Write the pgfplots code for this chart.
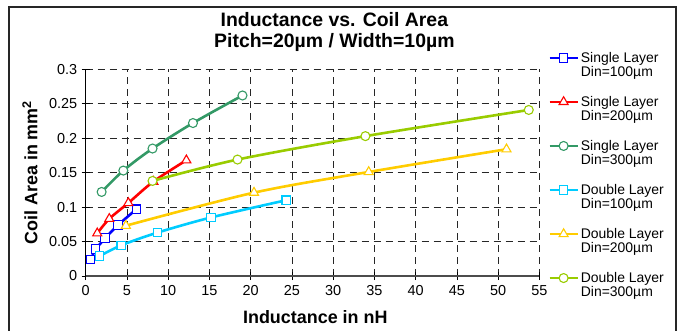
\documentclass[border=0pt]{standalone}
\usepackage{pgfplots}
\pgfplotsset{compat=1.18}
\usepackage{fontspec}
\setmainfont{Liberation Sans}
\definecolor{sA}{RGB}{0,0,255}
\definecolor{sB}{RGB}{255,0,0}
\definecolor{sC}{RGB}{51,153,102}
\definecolor{dA}{RGB}{0,204,255}
\definecolor{dB}{RGB}{255,204,0}
\definecolor{dC}{RGB}{153,204,0}
\begin{document}
\begin{tikzpicture}
\path[use as bounding box] (0,0) rectangle (680bp,331bp);
\draw[line width=1.2bp, black!85] (9bp,-20bp) rectangle (676bp,324bp);
\begin{axis}[
  at={(85.7bp,55bp)}, anchor=south west,
  scale only axis, width=453.8bp, height=206.7bp,
  xmin=0, xmax=55, ymin=0, ymax=0.3,
  xtick={0,5,...,55},
  ytick={0,0.05,0.1,0.15,0.2,0.25,0.3},
  yticklabels={0,0.05,0.1,0.15,0.2,0.25,0.3},
  axis x line=bottom, axis y line=left,
  x axis line style={-, line width=1.2bp, black!70},
  y axis line style={-, line width=1.2bp, black},
  tick align=center, major tick length=8bp,
  every tick/.style={black, line width=0.9bp},
  grid=major,
  major grid style={black!85, line width=0.9bp, dash pattern=on 7bp off 5bp},
  /pgf/number format/assume math mode=true,
  tick label style={font=\fontsize{14.5}{16}\selectfont},
  xticklabel style={yshift=-2bp},
  yticklabel style={xshift=-1bp},
  xlabel={Inductance in nH},
  ylabel={Coil Area in mm\textsuperscript{2}},
  xlabel style={at={(axis description cs:0.506,-0.198)}, anchor=center, font=\bfseries\fontsize{18}{20}\selectfont},
  ylabel style={at={(axis description cs:-0.1227,0.5)}, anchor=center, rotate=0, font=\bfseries\fontsize{18}{20}\selectfont},
  title={Inductance vs. Coil Area\\Pitch=20µm / Width=10µm},
  title style={at={(axis description cs:0.548,1.15)}, anchor=center, align=center, font=\bfseries\fontsize{19.5}{21}\selectfont},
  legend cell align=left,
  legend style={at={(axis description cs:1.019,1.094)}, anchor=north west, draw=none, fill=none,
    font=\fontsize{14}{14.5}\selectfont, cells={align=left}, row sep=14bp, inner sep=0pt},
  legend image code/.code={\draw[mark repeat=2,mark phase=2,#1] plot coordinates {(0bp,7.2bp) (14bp,7.2bp) (28bp,7.2bp)};},
  every axis plot/.append style={line width=2.6bp},
  clip=false,
]
\addplot[sA, mark=square*, mark size=4.2bp, mark options={solid, line width=1.1bp, fill=white, draw=sA}] coordinates {(0.6,0.024) (1.2,0.039) (2.35,0.055) (3.9,0.074) (6.15,0.097)};
\addlegendentry{Single Layer\\Din=100µm}
\addplot[sB, smooth, mark=triangle*, mark size=5.2bp, mark options={solid, line width=1.1bp, fill=white, draw=sB}] coordinates {(1.4,0.062) (2.86,0.083) (5.17,0.106) (8.2,0.137) (12.2,0.168)};
\addlegendentry{Single Layer\\Din=200µm}
\addplot[sC, smooth, mark=*, mark size=4.5bp, mark options={solid, line width=1.1bp, fill=white, draw=sC}] coordinates {(1.93,0.122) (4.56,0.153) (8.1,0.185) (13.0,0.222) (19.0,0.262)};
\addlegendentry{Single Layer\\Din=300µm}
\addplot[dA, smooth, mark=square*, mark size=4.2bp, mark options={solid, line width=1.1bp, fill=white, draw=dA}] coordinates {(1.7,0.029) (4.3,0.0445) (8.7,0.063) (15.2,0.085) (24.3,0.110)};
\addlegendentry{Double Layer\\Din=100µm}
\addplot[dB, smooth, mark=triangle*, mark size=5.2bp, mark options={solid, line width=1.1bp, fill=white, draw=dB}] coordinates {(4.87,0.073) (20.4,0.121) (34.3,0.151) (51.0,0.184)};
\addlegendentry{Double Layer\\Din=200µm}
\addplot[dC, smooth, mark=*, mark size=4.5bp, mark options={solid, line width=1.1bp, fill=white, draw=dC}] coordinates {(8.1,0.138) (18.4,0.169) (33.9,0.203) (53.7,0.241)};
\addlegendentry{Double Layer\\Din=300µm}
\end{axis}
\end{tikzpicture}
\end{document}
